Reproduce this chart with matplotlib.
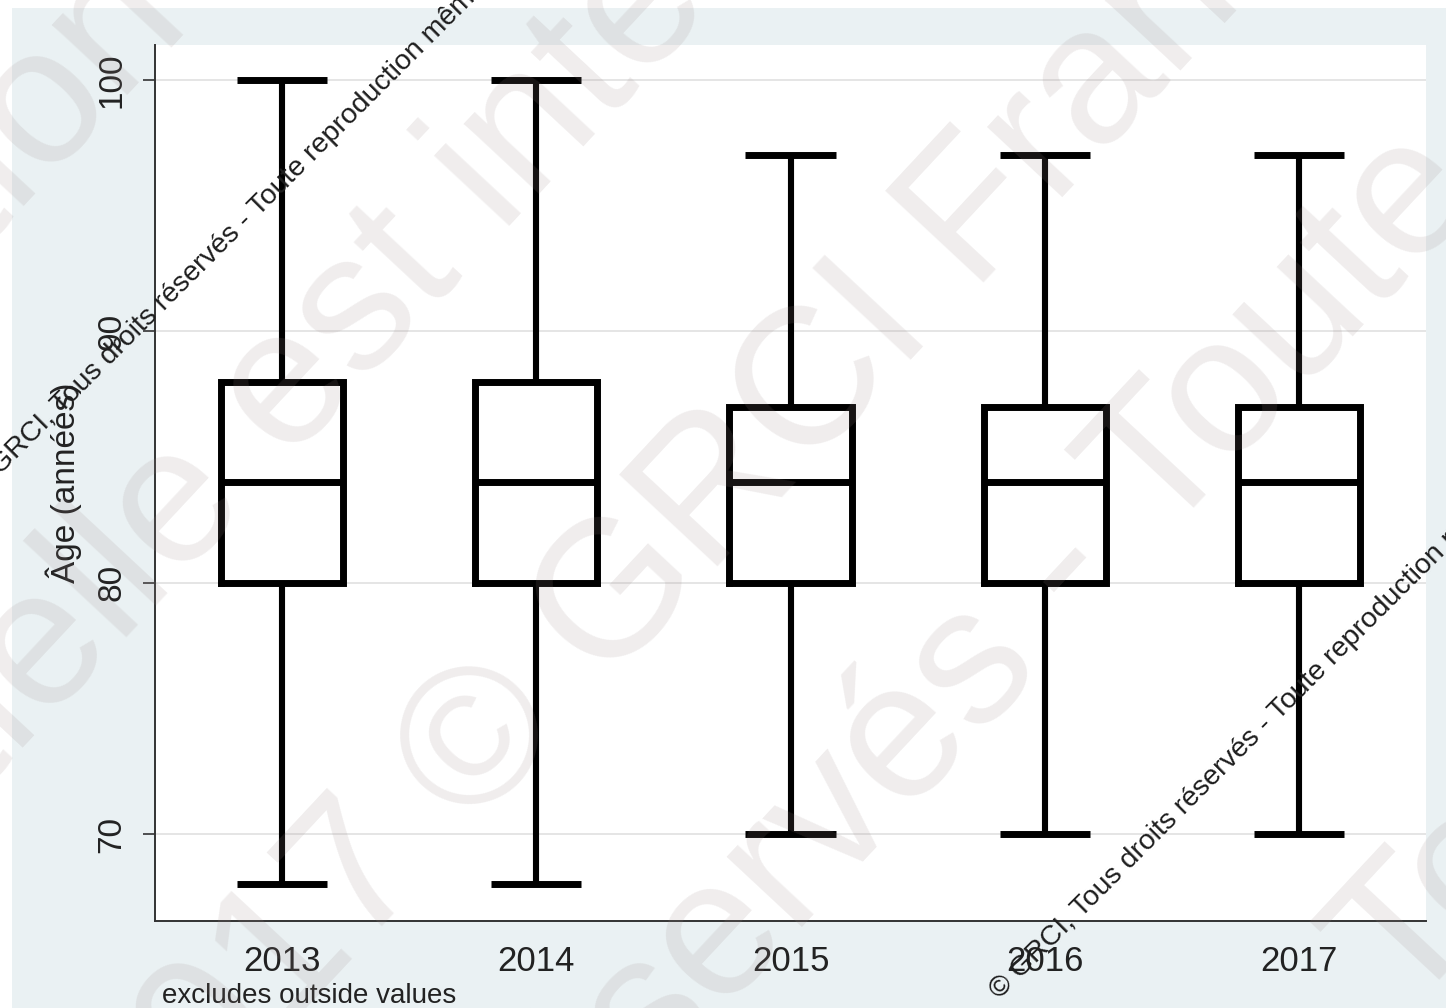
import numpy as np
import matplotlib
matplotlib.use("Agg")
import matplotlib.pyplot as plt
from matplotlib.patches import Rectangle
from matplotlib.font_manager import FontProperties

# ---------------- data ----------------
years = ["2013", "2014", "2015", "2016", "2017"]
lower_whisker = [68, 68, 70, 70, 70]
q1 = [80, 80, 80, 80, 80]
median = [84, 84, 84, 84, 84]
q3 = [88, 88, 87, 87, 87]
upper_whisker = [100, 100, 97, 97, 97]
y_ticks = [70, 80, 90, 100]
y_label = "Âge (années)"
note = "excludes outside values"
wm_small = "© GRCI, Tous droits réservés - Toute reproduction même partielle est interdite"

W, H, DPI = 1446, 1008, 100
FONT = "Liberation Sans"
plt.rcParams["font.family"] = [FONT, "DejaVu Sans"]

fig = plt.figure(figsize=(W / DPI, H / DPI), dpi=DPI, facecolor="white")
# Stata graph region background
fig.patches.append(Rectangle((12 / W, 0), 1 - 12 / W, 1 - 8 / H, transform=fig.transFigure,
                             facecolor="#eaf1f3", edgecolor="none", zorder=-10))

ax = fig.add_axes([155 / W, (H - 921) / H, (1426 - 155) / W, (921 - 45) / H])
ax.set_facecolor("white")

stats = []
for i, yr in enumerate(years):
    stats.append(dict(label=yr, whislo=lower_whisker[i], q1=q1[i], med=median[i],
                      q3=q3[i], whishi=upper_whisker[i], fliers=[]))

pos = np.arange(len(years))
ax.bxp(stats, positions=pos, widths=0.48, capwidths=0.355, showfliers=False,
       boxprops=dict(color="black", linewidth=5, solid_joinstyle="miter"),
       whiskerprops=dict(color="black", linewidth=4.4, solid_capstyle="butt"),
       capprops=dict(color="black", linewidth=5, solid_capstyle="butt"),
       medianprops=dict(color="black", linewidth=5, solid_capstyle="butt"),
       manage_ticks=False, zorder=3)

ax.set_xlim(-0.5, 4.5)
ax.set_ylim(66.54, 101.39)
ax.set_xticks(pos)
ax.set_xticklabels(years)
ax.set_yticks(y_ticks)
ax.set_yticklabels([str(v) for v in y_ticks], rotation=90, va="center")
ax.tick_params(axis="x", length=0, pad=17, labelsize=25, labelcolor="#222222")
ax.tick_params(axis="y", length=9, width=1.2, direction="out", pad=11, labelsize=24,
               labelcolor="#222222", color="#333333")
ax.yaxis.grid(True, color="#e3e3e3", linewidth=1.3)
ax.set_axisbelow(True)
for s in ["top", "right"]:
    ax.spines[s].set_visible(False)
for s in ["left", "bottom"]:
    ax.spines[s].set_color("#333333")
    ax.spines[s].set_linewidth(1.4)

ax.set_ylabel(y_label, fontsize=24, color="#222222", va="center")
ax.yaxis.set_label_coords((64 - 155) / (1426 - 155), 0.5)

fig.text(162 / W, (H - 1003) / H, note, fontsize=20, color="#222222", ha="left", va="baseline")

# ---------------- watermarks ----------------
renderer = fig.canvas.get_renderer()


def place_rot(text, k, cx, cy, angle, size, up_frac, **kw):
    prop = FontProperties(family=FONT, size=size)
    w_to, _, _ = renderer.get_text_width_height_descent(text[:k + 1], prop, ismath=False)
    w_ch, _, _ = renderer.get_text_width_height_descent(text[k], prop, ismath=False)
    em = size * DPI / 72.0
    a = np.deg2rad(angle)
    X, Y = cx, H - cy
    along = w_to - w_ch / 2.0
    bx = X - along * np.cos(a) + np.sin(a) * up_frac * em
    by = Y - along * np.sin(a) - np.cos(a) * up_frac * em
    fig.text(bx / W, by / H, text, rotation=angle, rotation_mode="anchor", ha="left",
             va="baseline", fontsize=size, family=FONT, **kw)


big = dict(color="#9a8888", alpha=0.15, zorder=20)
BIG = 140
ANG = 47
rowA = "Toute reproduction même partielle est interdite"
place_rot(rowA, rowA.index("est") + 1, 357, 315, ANG, BIG, 0.26, **big)
rowB = "réservés - 2017 © GRCI France 2017"
place_rot(rowB, rowB.index("©"), 468, 733, ANG, BIG, 0.36, **big)
rowC = "2017 - Tous droits réservés - Toute reproduction"
place_rot(rowC, rowC.index("vés") + 1, 898, 739, ANG, BIG, 0.30, **big)
rowD = "GRCI France 2017 - Tous droits"
place_rot(rowD, rowD.index("Tous"), 1395, 925, ANG, BIG, 0.36, **big)
row0 = "Toute reproduction même"
place_rot(row0, row0.index("ction") + 3, 45, 110, ANG, BIG, 0.26, **big)

small = dict(color="#1e1e1e", zorder=25)
place_rot(wm_small, wm_small.index("Toute"), 258, 203, 45, 20.5, 0.36, **small)
place_rot(wm_small, wm_small.index("Tous"), 1080, 905, 45, 20.5, 0.36, **small)

fig.savefig("out.png", dpi=DPI, facecolor="white")
